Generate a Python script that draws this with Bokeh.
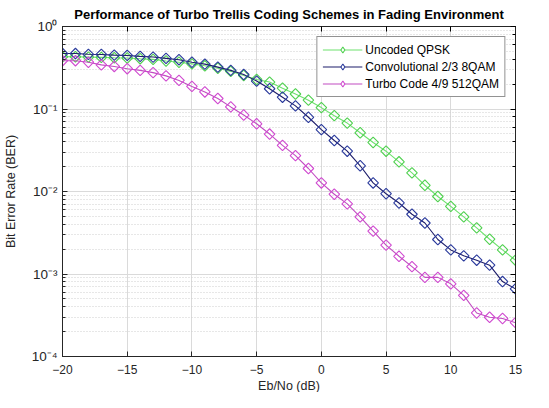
from bokeh.plotting import figure
from bokeh.embed import file_html
from bokeh.resources import INLINE
from bokeh.models import (Range1d, FixedTicker, CustomJSTickFormatter, LogAxis,
                          LinearAxis, Legend, LegendItem, LogTicker, Title)

ebno = [-20, -19, -18, -17, -16, -15, -14, -13, -12, -11, -10, -9, -8, -7, -6, -5,
        -4, -3, -2, -1, 0, 1, 2, 3, 4, 5, 6, 7, 8, 9, 10, 11, 12, 13, 14, 15]

uncoded_qpsk = [0.43, 0.43, 0.426, 0.422, 0.418, 0.415, 0.407, 0.40, 0.382, 0.369,
                0.352, 0.334, 0.312, 0.286, 0.255, 0.228, 0.212, 0.179, 0.152, 0.128,
                0.104, 0.083, 0.0675, 0.0515, 0.0393, 0.0308, 0.0229, 0.0168, 0.0119,
                0.0087, 0.0066, 0.00492, 0.00362, 0.00264, 0.00196, 0.00147]

conv_8qam = [0.47, 0.47, 0.46, 0.458, 0.45, 0.446, 0.434, 0.426, 0.411, 0.396,
             0.369, 0.35, 0.322, 0.294, 0.262, 0.218, 0.176, 0.139, 0.109, 0.0794,
             0.0563, 0.0415, 0.0308, 0.0205, 0.0127, 0.0094, 0.00726, 0.0053, 0.00415,
             0.00262, 0.00196, 0.00166, 0.00147, 0.00128, 0.00081, 0.00066]

turbo_512qam = [0.385, 0.385, 0.369, 0.343, 0.328, 0.308, 0.294, 0.276, 0.252, 0.222,
                0.188, 0.161, 0.134, 0.106, 0.0845, 0.0662, 0.0497, 0.0362, 0.0272, 0.019,
                0.0127, 0.00927, 0.00707, 0.00492, 0.00331, 0.00224, 0.00164, 0.00123,
                0.00091, 0.00091, 0.00076, 0.00055, 0.000337, 0.000299, 0.000289, 0.000257]

x_ticks = [-20, -15, -10, -5, 0, 5, 10, 15]
x_title = "Eb/No (dB)"
series_labels = ["Uncoded QPSK", "Convolutional 2/3 8QAM", "Turbo Code 4/9 512QAM"]

FONT = "Liberation Sans"
TXT = "#262626"

p = figure(width=533, height=392, y_axis_type="log",
           x_range=Range1d(-20, 15), y_range=Range1d(1e-4, 1),
           output_backend="svg", toolbar_location=None,
           min_border_left=0, min_border_right=18, min_border_top=0, min_border_bottom=0,
           title="Performance of Turbo Trellis Coding Schemes in Fading Environment")

p.title.text_font = FONT
p.title.text_font_size = "13px"
p.title.text_font_style = "bold"
p.title.text_color = "black"
p.title.align = "center"
p.title.standoff = 9

p.background_fill_color = "white"
p.border_fill_color = "white"
p.outline_line_color = "#262626"
p.outline_line_width = 1

sup = CustomJSTickFormatter(code="""
const e = Math.round(Math.log10(tick));
const m = {'-':'\u207b','0':'\u2070','1':'\u00b9','2':'\u00b2','3':'\u00b3','4':'\u2074',
           '5':'\u2075','6':'\u2076','7':'\u2077','8':'\u2078','9':'\u2079'};
return '10' + String(e).split('').map(c => m[c]).join('');
""")
blank = CustomJSTickFormatter(code="return '';")

# x axis
xa = p.xaxis[0]
xa.ticker = FixedTicker(ticks=x_ticks)
xa.major_label_text_font = FONT
xa.major_label_text_font_size = "12px"
xa.major_label_text_color = TXT
xa.major_label_standoff = 8
xa.major_tick_in = 5
xa.major_tick_out = 0
xa.minor_tick_line_color = None
xa.axis_line_color = "#262626"
xa.major_tick_line_color = "#262626"

xtitle = Title(text=x_title, align="center", text_font=FONT,
               text_font_size="12.5px", text_font_style="normal", text_color=TXT,
               standoff=0)
p.add_layout(xtitle, "below")

# y axis
ya = p.yaxis[0]
ya.formatter = sup
ya.axis_label = "Bit Error Rate (BER)"
ya.axis_label_text_font = FONT
ya.axis_label_text_font_size = "12.5px"
ya.axis_label_text_font_style = "normal"
ya.axis_label_text_color = TXT
ya.axis_label_standoff = 11
ya.major_label_text_font = FONT
ya.major_label_text_font_size = "13.5px"
ya.major_label_text_color = TXT
ya.major_label_standoff = 5
ya.major_tick_in = 5
ya.major_tick_out = 0
ya.minor_tick_in = 3
ya.minor_tick_out = 0
ya.axis_line_color = "#262626"
ya.major_tick_line_color = "#262626"
ya.minor_tick_line_color = "#262626"

# right axis (ticks only)
ra = LogAxis(ticker=LogTicker(), formatter=blank)
ra.major_tick_in = 5
ra.major_tick_out = 0
ra.minor_tick_in = 3
ra.minor_tick_out = 0
ra.major_label_standoff = 0
ra.major_label_text_font_size = "1px"
ra.axis_line_color = "#262626"
p.add_layout(ra, "right")

# top axis (ticks only)
ta = LinearAxis(ticker=FixedTicker(ticks=x_ticks), formatter=blank)
ta.major_tick_in = 5
ta.major_tick_out = 0
ta.minor_tick_line_color = None
ta.major_label_standoff = 0
ta.major_label_text_font_size = "1px"
ta.axis_line_color = "#262626"
p.add_layout(ta, "above")

# grids
p.xgrid.grid_line_color = "#dadada"
p.xgrid.grid_line_width = 1
p.ygrid.grid_line_color = "#dadada"
p.ygrid.grid_line_width = 1
p.ygrid.minor_grid_line_color = "#cfcfcf"
p.ygrid.minor_grid_line_dash = "1 2"
p.ygrid.minor_grid_line_width = 1

styles = [
    ("#6ee26e", "#4fd04f", uncoded_qpsk),
    ("#1c1c6a", "#2a3a9c", conv_8qam),
    ("#c24cc2", "#d04ad0", turbo_512qam),
]

nan = float("nan")
items = []
for (lc, mc, ys), lab in zip(styles, series_labels):
    r1 = p.line(ebno, ys, line_color=lc, line_width=1.1)
    p.scatter(ebno, ys, marker="square", angle=0.785398, size=7.5,
              line_color=mc, line_width=1.1, fill_color=None)
    # legend proxy (not drawn in the plot: NaN position)
    rl = p.scatter([nan], [nan], marker="diamond", size=9,
                   line_color=mc, line_width=1.1, fill_color="white")
    items.append(LegendItem(label=lab, renderers=[r1, rl]))

legend = Legend(items=items, location="top_right")
legend.label_text_font = FONT
legend.label_text_font_size = "12px"
legend.label_text_color = "black"
legend.glyph_width = 40
legend.glyph_height = 15
legend.label_height = 15
legend.spacing = 2
legend.padding = 5
legend.margin = 10
legend.label_standoff = 3
legend.border_line_color = "#262626"
legend.border_line_width = 1
legend.background_fill_color = "white"
legend.background_fill_alpha = 1
p.add_layout(legend)

open("out.html", "w").write(file_html(p, INLINE))
